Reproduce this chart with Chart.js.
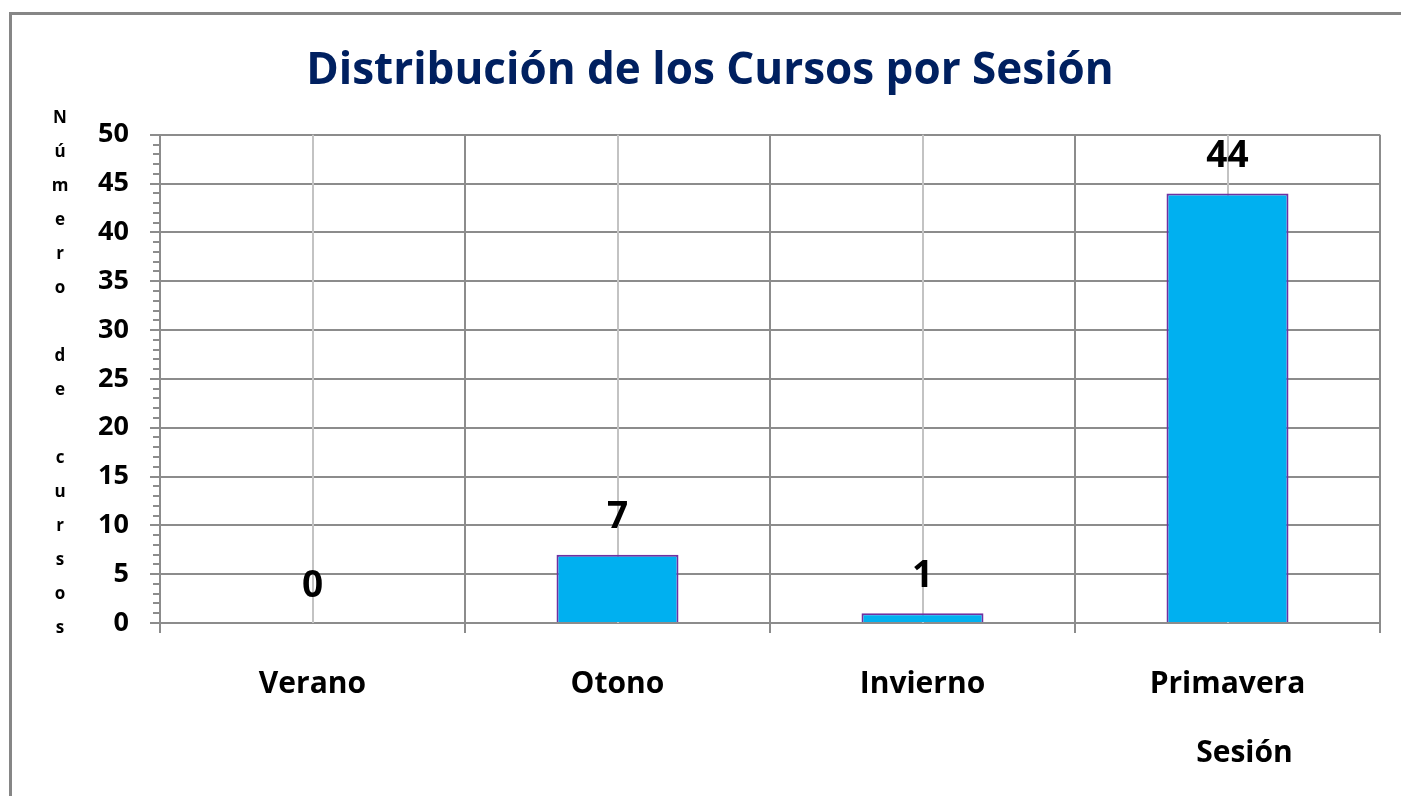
<!DOCTYPE html>
<html>
<head>
<meta charset="utf-8">
<script src="https://cdn.jsdelivr.net/npm/chart.js@4"></script>
<style>
    body { margin: 0; background: #fff; }
    canvas { display: block; }
</style>
</head>
<body>
<canvas id="chart" width="1401" height="796"></canvas>
<script>
// datos del grafico
const sesiones = ['Verano', 'Otono', 'Invierno', 'Primavera'];
const cursos = [0, 7, 1, 44];
const yTicks = [0, 5, 10, 15, 20, 25, 30, 35, 40, 45, 50];
const titulo = 'Distribución de los Cursos por Sesión';
const tituloY = 'Número de cursos';
const tituloX = 'Sesión';

const fuente = "'Open Sans', 'Liberation Sans', sans-serif";

// marco gris de la hoja
const marco = {
    id: 'marco',
    beforeDraw(chart) {
        const ctx = chart.ctx;
        ctx.save();
        ctx.fillStyle = '#fff';
        ctx.fillRect(0, 0, chart.width, chart.height);
        ctx.strokeStyle = '#868686';
        ctx.lineWidth = 3;
        ctx.beginPath();
        ctx.moveTo(10.5, chart.height + 5);
        ctx.lineTo(10.5, 13.5);
        ctx.lineTo(chart.width + 5, 13.5);
        ctx.stroke();
        ctx.restore();
    }
};

// lineas centrales de cada categoria y marcas menores del eje y
const extras = {
    id: 'extras',
    beforeDatasetsDraw(chart) {
        const ctx = chart.ctx;
        const area = chart.chartArea;
        const x = chart.scales.x;
        const y = chart.scales.y;
        ctx.save();
        ctx.strokeStyle = '#c3c3c3';
        ctx.lineWidth = 2;
        sesiones.forEach((s, i) => {
            const px = Math.round(x.getPixelForValue(i));
            ctx.beginPath();
            ctx.moveTo(px, area.top);
            ctx.lineTo(px, area.bottom);
            ctx.stroke();
        });
        ctx.strokeStyle = '#8c8c8c';
        ctx.lineWidth = 2;
        for (let v = y.min; v <= y.max; v++) {
            if (v % 5 === 0) continue;
            const py = Math.round(y.getPixelForValue(v));
            ctx.beginPath();
            ctx.moveTo(area.left - 7, py);
            ctx.lineTo(area.left, py);
            ctx.stroke();
        }
        ctx.restore();
    },
    afterDatasetsDraw(chart) {
        const ctx = chart.ctx;
        const meta = chart.getDatasetMeta(0);
        ctx.save();
        ctx.fillStyle = '#000';
        ctx.font = 'bold 37px ' + fuente;
        ctx.textAlign = 'center';
        ctx.textBaseline = 'middle';
        meta.data.forEach((bar, i) => {
            ctx.fillText(String(cursos[i]), bar.x, bar.y - 37);
        });

        // titulo del eje y, letra por letra
        const area = chart.chartArea;
        ctx.font = 'bold 17px ' + fuente;
        const letras = tituloY.split('');
        const paso = 34;
        const y0 = (area.top + area.bottom) / 2 - 6 - paso * (letras.length - 1) / 2;
        letras.forEach((c, i) => {
            if (c !== ' ') ctx.fillText(c, 60, y0 + i * paso);
        });

        // titulo del eje x
        ctx.font = 'bold 30px ' + fuente;
        ctx.fillText(tituloX, chart.scales.x.getPixelForValue(3) + 17, 753);
        ctx.restore();
    }
};

new Chart(document.getElementById('chart'), {
    type: 'bar',
    data: {
        labels: sesiones,
        datasets: [{
            label: 'Cursos',
            data: cursos,
            backgroundColor: '#00B0F0',
            borderColor: '#7030A0',
            borderWidth: 2,
            barPercentage: 0.4,
            categoryPercentage: 1
        }]
    },
    options: {
        responsive: false,
        animation: false,
        layout: {
            padding: { left: 40, right: 21, top: 0, bottom: 0 }
        },
        plugins: {
            legend: { display: false },
            tooltip: { enabled: false },
            title: {
                display: true,
                text: titulo,
                color: '#002060',
                font: { family: fuente, size: 44, weight: 'bold' },
                padding: { top: 45, bottom: 37 }
            }
        },
        scales: {
            x: {
                afterFit(scale) { scale.height = 173; },
                grid: {
                    offset: true,
                    color: '#8c8c8c',
                    lineWidth: 2,
                    tickLength: 10
                },
                border: { color: '#8c8c8c', width: 2 },
                ticks: {
                    color: '#000',
                    padding: 33,
                    font: { family: fuente, size: 30, weight: 'bold' }
                }
            },
            y: {
                min: 0,
                max: 50,
                afterFit(scale) { scale.width = 120; },
                afterBuildTicks(scale) {
                    scale.ticks = yTicks.map(v => ({ value: v }));
                },
                grid: {
                    color: '#8c8c8c',
                    lineWidth: 2,
                    tickLength: 10
                },
                border: { color: '#8c8c8c', width: 2 },
                ticks: {
                    color: '#000',
                    padding: 21,
                    font: { family: fuente, size: 27, weight: 'bold' }
                }
            }
        }
    },
    plugins: [marco, extras]
});
</script>
</body>
</html>
